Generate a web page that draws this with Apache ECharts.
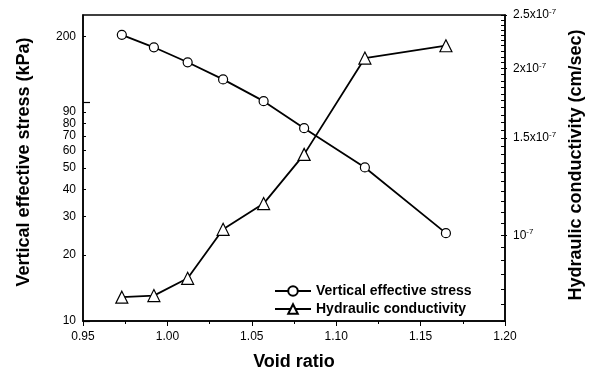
<!DOCTYPE html>
<html>
<head>
<meta charset="utf-8">
<script src="https://cdn.jsdelivr.net/npm/echarts@6/dist/echarts.min.js"></script>
<style>
  html, body { margin: 0; padding: 0; background: #fff; }
  #main { width: 594px; height: 376px; }
</style>
</head>
<body>
<div id="main"></div>
<script>
// void ratio (x)
const voidRatio = [0.973, 0.992, 1.012, 1.033, 1.057, 1.081, 1.117, 1.165]
// vertical effective stress (kPa), left log axis
const stress = [203, 178, 152, 127, 101, 76, 50.3, 25.2]
// hydraulic conductivity (cm/sec), right log axis
const conductivity = [0.773e-7, 0.778e-7, 0.836e-7, 1.025e-7, 1.141e-7, 1.40e-7, 2.09e-7, 2.2e-7]

const stressLabels = [10, 20, 30, 40, 50, 60, 70, 80, 90, 200]
const stressMajor = [10, 100]
const condLabels = [1e-7, 1.5e-7, 2e-7, 2.5e-7]
// minor ticks every 0.05x10^-7
const condTicks = []
for (let k = 14; k <= 50; k++) condTicks.push(k * 0.05e-7)

const FONT = 'Liberation Sans, Arial, sans-serif'
const lg = v => Math.log10(v)

const chart = echarts.init(document.getElementById('main'))

const leftMin = lg(10)
const leftMax = lg(250)
const rightMin = lg(0.7e-7)
const rightMax = lg(2.5e-7)

const option = {
  animation: false,
  textStyle: { fontFamily: FONT },
  grid: {
    left: 83, right: 89, top: 15, bottom: 53,
    show: true, borderColor: '#000', borderWidth: 1.5
  },
  legend: {
    orient: 'vertical',
    left: 269,
    top: 278,
    itemWidth: 36,
    itemHeight: 12,
    itemGap: 2,
    textStyle: { fontFamily: FONT, fontSize: 14, fontWeight: 'bold', color: '#000', lineHeight: 16 },
    data: ['Vertical effective stress', 'Hydraulic conductivity']
  },
  xAxis: {
    type: 'value',
    min: 0.95,
    max: 1.20,
    interval: 0.05,
    name: 'Void ratio',
    nameLocation: 'middle',
    nameGap: 32,
    nameTextStyle: { fontFamily: FONT, fontSize: 18, fontWeight: 'bold', color: '#000' },
    axisLine: { lineStyle: { color: '#000', width: 1.5 } },
    axisTick: { inside: false, length: 5, lineStyle: { color: '#000', width: 1 } },
    minorTick: { show: true, splitNumber: 2, length: 3, lineStyle: { color: '#000', width: 1 } },
    splitLine: { show: false },
    axisLabel: {
      margin: 10, fontFamily: FONT, fontSize: 12, color: '#000',
      formatter: v => v.toFixed(2)
    }
  },
  yAxis: [
    {
      type: 'value',
      position: 'left',
      min: leftMin,
      max: leftMax,
      name: 'Vertical effective stress (kPa)',
      nameLocation: 'middle',
      nameRotate: 90,
      nameGap: 50,
      nameTextStyle: {
        fontFamily: FONT, fontSize: 18, fontWeight: 'bold', color: '#000',
        padding: [0, 0, 0, 12]
      },
      axisLine: { show: true, lineStyle: { color: '#000', width: 1.5 } },
      axisTick: {
        inside: true, length: 3,
        customValues: stressLabels.filter(v => v !== 10).map(lg),
        lineStyle: { color: '#000', width: 1 }
      },
      splitLine: { show: false },
      axisLabel: {
        margin: 7, fontFamily: FONT, fontSize: 12, color: '#000',
        customValues: stressLabels.map(lg),
        formatter: v => String(Math.round(Math.pow(10, v)))
      }
    },
    {
      type: 'value',
      position: 'left',
      min: leftMin,
      max: leftMax,
      axisLine: { show: false },
      axisLabel: { show: false },
      splitLine: { show: false },
      axisTick: {
        inside: true, length: 7,
        customValues: stressMajor.map(lg),
        lineStyle: { color: '#000', width: 1.2 }
      }
    },
    {
      type: 'value',
      position: 'right',
      min: rightMin,
      max: rightMax,
      name: 'Hydraulic conductivity (cm/sec)',
      nameLocation: 'middle',
      nameRotate: 90,
      nameGap: 60,
      nameTextStyle: {
        fontFamily: FONT, fontSize: 18, fontWeight: 'bold', color: '#000',
        padding: [0, 0, 0, 6]
      },
      axisLine: { show: true, lineStyle: { color: '#000', width: 1.5 } },
      axisTick: {
        inside: true, length: 4,
        customValues: condTicks.map(lg),
        lineStyle: { color: '#000', width: 1 }
      },
      splitLine: { show: false },
      axisLabel: {
        margin: 8, fontFamily: FONT, fontSize: 12, color: '#000',
        customValues: condLabels.map(lg),
        formatter: v => {
          const m = Math.round(Math.pow(10, v) / 1e-7 * 10) / 10
          return m === 1 ? '{b|10}{s|-7}' : '{b|' + m + 'x10}{s|-7}'
        },
        rich: {
          b: { fontFamily: FONT, fontSize: 12, color: '#000', lineHeight: 14 },
          s: { fontFamily: FONT, fontSize: 8, color: '#000', verticalAlign: 'top', lineHeight: 14 }
        }
      }
    },
    {
      type: 'value',
      position: 'right',
      min: rightMin,
      max: rightMax,
      axisLine: { show: false },
      axisLabel: { show: false },
      splitLine: { show: false },
      axisTick: {
        inside: false, length: 2,
        customValues: condLabels.map(lg),
        lineStyle: { color: '#000', width: 1 }
      }
    }
  ],
  series: [
    {
      name: 'Vertical effective stress',
      type: 'line',
      yAxisIndex: 0,
      symbol: 'circle',
      symbolSize: 9,
      lineStyle: { color: '#000', width: 1.8 },
      itemStyle: { color: '#fff', borderColor: '#000', borderWidth: 1.2 },
      data: voidRatio.map((x, i) => [x, lg(stress[i])])
    },
    {
      name: 'Hydraulic conductivity',
      type: 'line',
      yAxisIndex: 2,
      symbol: 'triangle',
      symbolSize: 12,
      lineStyle: { color: '#000', width: 1.8 },
      itemStyle: { color: '#fff', borderColor: '#000', borderWidth: 1.2 },
      data: voidRatio.map((x, i) => [x, lg(conductivity[i])])
    }
  ]
}

chart.setOption(option)
</script>
</body>
</html>
